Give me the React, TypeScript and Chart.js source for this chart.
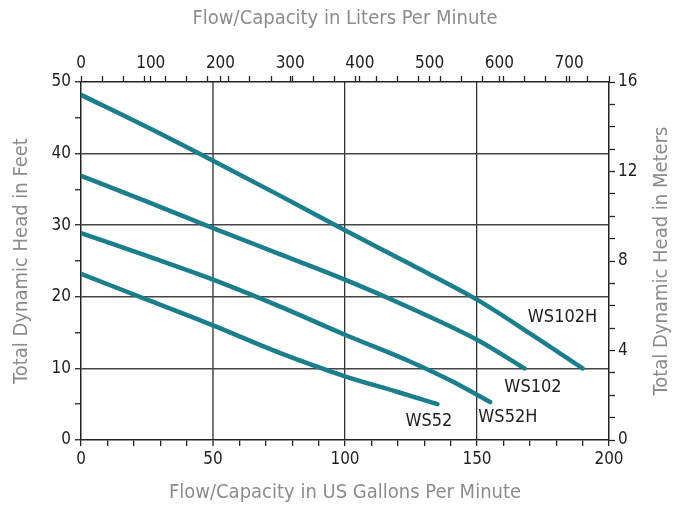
import { useEffect, useRef } from 'react';
import { Chart, registerables } from 'chart.js';

Chart.register(...registerables);

const FONT = "'Liberation Sans Narrow', 'DejaVu Sans Condensed', 'Arial Narrow', sans-serif";
const TEAL = '#1a7f8c';
const TITLE_GRAY = '#8c8c8c';
const INK = '#1e1e1e';

const LITERS_PER_GALLON = 3.78541;

// Series (US GPM vs feet of head)
const SERIES_NAMES = ['WS102H', 'WS102', 'WS52H', 'WS52'];
const WS102H_GPM = [0, 25, 50, 75, 100, 125, 150, 170, 190];
const WS102H_FT = [48.2, 43.7, 39.0, 34.2, 29.3, 24.5, 19.6, 14.9, 10.0];
const WS102_GPM = [0, 25, 50, 75, 100, 125, 150, 168];
const WS102_FT = [36.9, 33.3, 29.6, 26.0, 22.4, 18.4, 14.0, 10.0];
const WS52H_GPM = [0, 25, 50, 75, 100, 125, 140, 155];
const WS52H_FT = [28.9, 25.7, 22.4, 18.7, 14.7, 10.9, 8.3, 5.3];
const WS52_GPM = [0, 25, 50, 75, 100, 120, 135];
const WS52_FT = [23.2, 19.6, 16.0, 12.2, 8.9, 6.7, 5.0];

// Series label anchor positions (GPM, feet)
const LABEL_GPM = [182.4, 171.2, 161.7, 131.8];
const LABEL_FT = [17.1, 7.4, 3.1, 2.6];

// Axis ticks
const GPM_TICKS = [0, 10, 20, 30, 40, 50, 60, 70, 80, 90, 100, 110, 120, 130, 140, 150, 160, 170, 180, 190, 200];
const GPM_LABELS = [0, 50, 100, 150, 200];
const FEET_TICKS = [0, 5, 10, 15, 20, 25, 30, 35, 40, 45, 50];
const FEET_LABELS = [0, 10, 20, 30, 40, 50];
const METER_TICKS = [0, 1, 2, 3, 4, 5, 6, 7, 8, 9, 10, 11, 12, 13, 14, 15, 16];
const METER_LABELS = [0, 4, 8, 12, 16];
const LPM_LABELS = [0, 100, 200, 300, 400, 500, 600, 700];
const LPM_MINOR_GPM = [8, 16, 24, 32, 40, 48, 56, 64, 72, 80, 88, 96, 104, 112, 120, 128, 136, 144, 152, 160, 168, 176, 184, 192, 200];

const GRID_X = [50, 100, 150];
const GRID_Y = [10, 20, 30, 40];

const TITLE_TOP = 'Flow/Capacity in Liters Per Minute';
const TITLE_BOTTOM = 'Flow/Capacity in US Gallons Per Minute';
const TITLE_LEFT = 'Total Dynamic Head in Feet';
const TITLE_RIGHT = 'Total Dynamic Head in Meters';

const toPoints = (xs: number[], ys: number[]) => xs.map((x, i) => ({ x, y: ys[i] }));

const annotationPlugin = {
  id: 'annotations',
  afterDatasetsDraw(chart: any) {
    const { ctx, scales, chartArea } = chart;
    const x = scales.x;
    const y = scales.y;
    ctx.save();
    ctx.font = `18px ${FONT}`;
    ctx.fillStyle = INK;
    ctx.textAlign = 'center';
    ctx.textBaseline = 'middle';
    SERIES_NAMES.forEach((name, i) => {
      ctx.fillText(name, x.getPixelForValue(LABEL_GPM[i]), y.getPixelForValue(LABEL_FT[i]));
    });
    ctx.restore();

    ctx.save();
    ctx.font = `20px ${FONT}`;
    ctx.fillStyle = TITLE_GRAY;
    ctx.textAlign = 'center';
    ctx.textBaseline = 'middle';
    ctx.translate(scales.y2.right - 11, (chartArea.top + chartArea.bottom) / 2);
    ctx.rotate(-Math.PI / 2);
    ctx.fillText(TITLE_RIGHT, 0, 0);
    ctx.restore();
  },
};

export default function App() {
  const ref = useRef<HTMLCanvasElement | null>(null);

  useEffect(() => {
    if (!ref.current) return;
    const tickFont = { family: FONT, size: 17 };
    const titleFont = { family: FONT, size: 20 };
    const border = { display: true, color: '#222', width: 1.5 };

    const lpmMax = 200 * LITERS_PER_GALLON;
    const topTicks: number[] = [...LPM_LABELS];
    LPM_MINOR_GPM.forEach((g) => {
      const v = g * LITERS_PER_GALLON;
      if (!topTicks.some((t) => Math.abs(t - v) < 0.01)) topTicks.push(v);
    });
    topTicks.sort((a, b) => a - b);

    const mk = (name: string, xs: number[], ys: number[]) => ({
      label: name,
      data: toPoints(xs, ys),
      borderColor: TEAL,
      backgroundColor: TEAL,
      borderWidth: 4.5,
      pointRadius: 0,
      borderCapStyle: 'round',
      borderJoinStyle: 'round',
      cubicInterpolationMode: 'monotone',
      fill: false,
      xAxisID: 'x',
      yAxisID: 'y',
    });

    const chart = new Chart(ref.current, {
      type: 'line',
      data: {
        datasets: [
          mk(SERIES_NAMES[0], WS102H_GPM, WS102H_FT),
          mk(SERIES_NAMES[1], WS102_GPM, WS102_FT),
          mk(SERIES_NAMES[2], WS52H_GPM, WS52H_FT),
          mk(SERIES_NAMES[3], WS52_GPM, WS52_FT),
        ] as any,
      },
      options: {
        responsive: false,
        animation: false,
        layout: { padding: 0 },
        plugins: { legend: { display: false }, tooltip: { enabled: false } },
        scales: {
          x: {
            type: 'linear',
            position: 'bottom',
            min: 0,
            max: 200,
            afterBuildTicks: (s: any) => { s.ticks = GPM_TICKS.map((v) => ({ value: v })); },
            afterFit: (s: any) => { s.height = 70; },
            ticks: {
              autoSkip: false,
              maxRotation: 0,
              color: INK,
              font: tickFont,
              padding: 3,
              callback: (v: any) => (GPM_LABELS.includes(Number(v)) ? String(v) : ''),
            },
            grid: {
              drawOnChartArea: true,
              color: (c: any) => (c.tick && GRID_X.includes(c.tick.value) ? (c.tick.value === 50 ? '#777' : '#333') : 'rgba(0,0,0,0)'),
              lineWidth: (c: any) => (c.tick && c.tick.value === 50 ? 2 : 1.3),
              tickColor: '#222',
              tickLength: 6,
              tickWidth: 1.3,
            },
            border,
            title: { display: true, text: TITLE_BOTTOM, color: TITLE_GRAY, font: titleFont, padding: { top: 0, bottom: 5 } },
          },
          x2: {
            type: 'linear',
            position: 'top',
            min: 0,
            max: lpmMax,
            afterBuildTicks: (s: any) => { s.ticks = topTicks.map((v) => ({ value: v })); },
            afterFit: (s: any) => { s.height = 82; },
            ticks: {
              autoSkip: false,
              maxRotation: 0,
              color: INK,
              font: tickFont,
              padding: 2,
              callback: (v: any) => (LPM_LABELS.includes(Number(v)) ? String(v) : ''),
            },
            grid: { drawOnChartArea: false, tickColor: '#222', tickLength: 6, tickWidth: 1.3 },
            border,
            title: { display: true, text: TITLE_TOP, color: TITLE_GRAY, font: titleFont, padding: { top: 7, bottom: 0 } },
          },
          y: {
            type: 'linear',
            position: 'left',
            min: 0,
            max: 50,
            afterBuildTicks: (s: any) => { s.ticks = FEET_TICKS.map((v) => ({ value: v })); },
            afterFit: (s: any) => { s.width = 81; },
            ticks: {
              autoSkip: false,
              color: INK,
              font: tickFont,
              padding: 4,
              callback: (v: any) => (FEET_LABELS.includes(Number(v)) ? String(v) : ''),
            },
            grid: {
              drawOnChartArea: true,
              color: (c: any) => (c.tick && GRID_Y.includes(c.tick.value) ? '#444' : 'rgba(0,0,0,0)'),
              lineWidth: 1.5,
              tickColor: '#222',
              tickLength: 6,
              tickWidth: 1.3,
            },
            border,
            title: { display: true, text: TITLE_LEFT, color: TITLE_GRAY, font: titleFont, padding: { top: 10, bottom: 0 } },
          },
          y2: {
            type: 'linear',
            position: 'right',
            min: 0,
            max: 16,
            afterBuildTicks: (s: any) => { s.ticks = METER_TICKS.map((v) => ({ value: v })); },
            afterFit: (s: any) => { s.width = 64; },
            ticks: {
              autoSkip: false,
              color: INK,
              font: tickFont,
              padding: 3,
              callback: (v: any) => (METER_LABELS.includes(Number(v)) ? String(v) : ''),
            },
            grid: { drawOnChartArea: false, tickColor: '#222', tickLength: 6, tickWidth: 1.3 },
            border,
            title: { display: false },
          },
        },
      } as any,
      plugins: [annotationPlugin],
    });
    return () => chart.destroy();
  }, []);

  return (
    <div style={{ position: 'absolute', left: 0, top: 0, width: 673, height: 510, background: '#fff' }}>
      <canvas ref={ref} width={673} height={510} style={{ display: 'block' }} />
    </div>
  );
}
